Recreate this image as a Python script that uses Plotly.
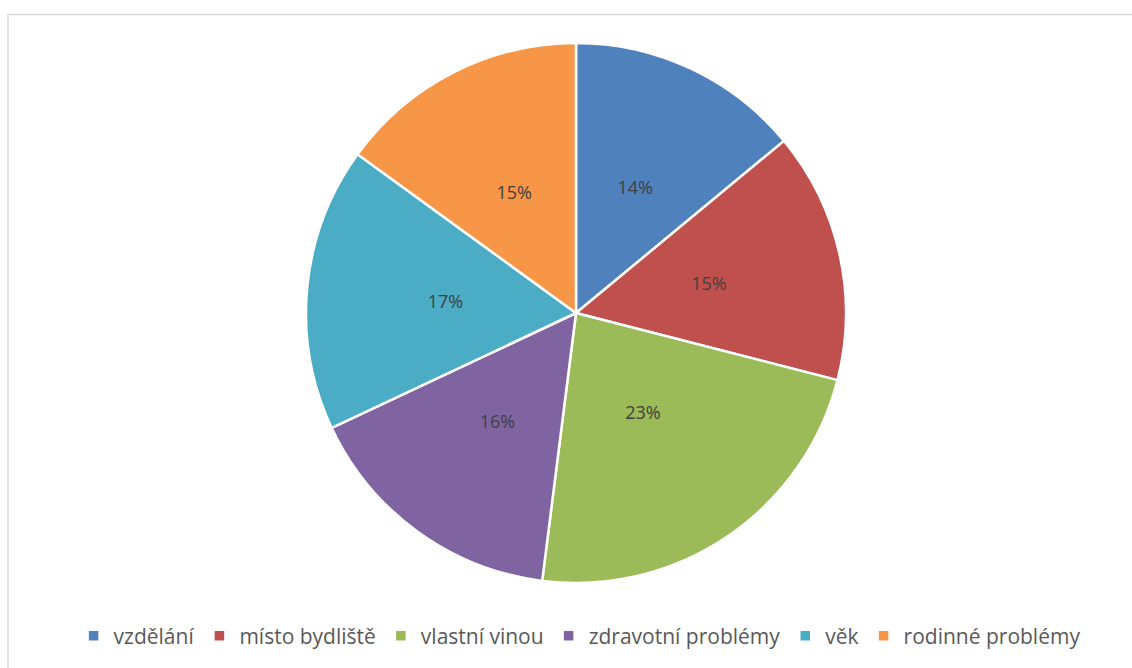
import plotly.graph_objects as go

# Shares of reasons, clockwise from 12 o'clock
labels = ["vzdělání", "místo bydliště", "vlastní vinou",
          "zdravotní problémy", "věk", "rodinné problémy"]
values = [14, 15, 23, 16, 17, 15]
colors = ["#4F81BD", "#C0504D", "#9BBB59", "#8064A2", "#4BACC6", "#F79646"]

W, H = 1132, 668
cx, cy, r = 576, 313, 270
r_text = 198  # smaller, transparent pie that carries the percentage labels


def domain(radius):
    return dict(x=[(cx - radius) / W, (cx + radius) / W],
                y=[1 - (cy + radius) / H, 1 - (cy - radius) / H])


fig = go.Figure()

# Coloured slices
fig.add_trace(go.Pie(
    labels=labels,
    values=values,
    sort=False,
    direction="clockwise",
    rotation=0,
    marker=dict(colors=colors, line=dict(color="white", width=2.5)),
    textinfo="none",
    hoverinfo="label+percent",
    domain=domain(r),
))

# Percentage labels placed nearer the centre of each slice
fig.add_trace(go.Pie(
    labels=labels,
    values=values,
    sort=False,
    direction="clockwise",
    rotation=0,
    marker=dict(colors=["rgba(0,0,0,0)"] * len(values), line=dict(width=0)),
    texttemplate="%{value}%",
    textposition="inside",
    insidetextorientation="horizontal",
    textfont=dict(color="#404040", size=18),
    hoverinfo="skip",
    showlegend=False,
    domain=domain(r_text),
))

fig.update_layout(
    width=W, height=H,
    margin=dict(l=0, r=0, t=0, b=0),
    paper_bgcolor="white",
    font=dict(family="Open Sans, DejaVu Sans, sans-serif", color="#595959", size=21),
    legend=dict(
        orientation="h",
        x=0.512, xanchor="center",
        y=(H - 636) / H, yanchor="middle",
        font=dict(size=21, color="#595959"),
    ),
    shapes=[dict(
        type="rect", xref="paper", yref="paper",
        x0=8 / W, x1=1.02, y0=-0.02, y1=1 - 14.5 / H,
        line=dict(color="#D9D9D9", width=1.5),
    )],
)

fig.write_html("out.html")
